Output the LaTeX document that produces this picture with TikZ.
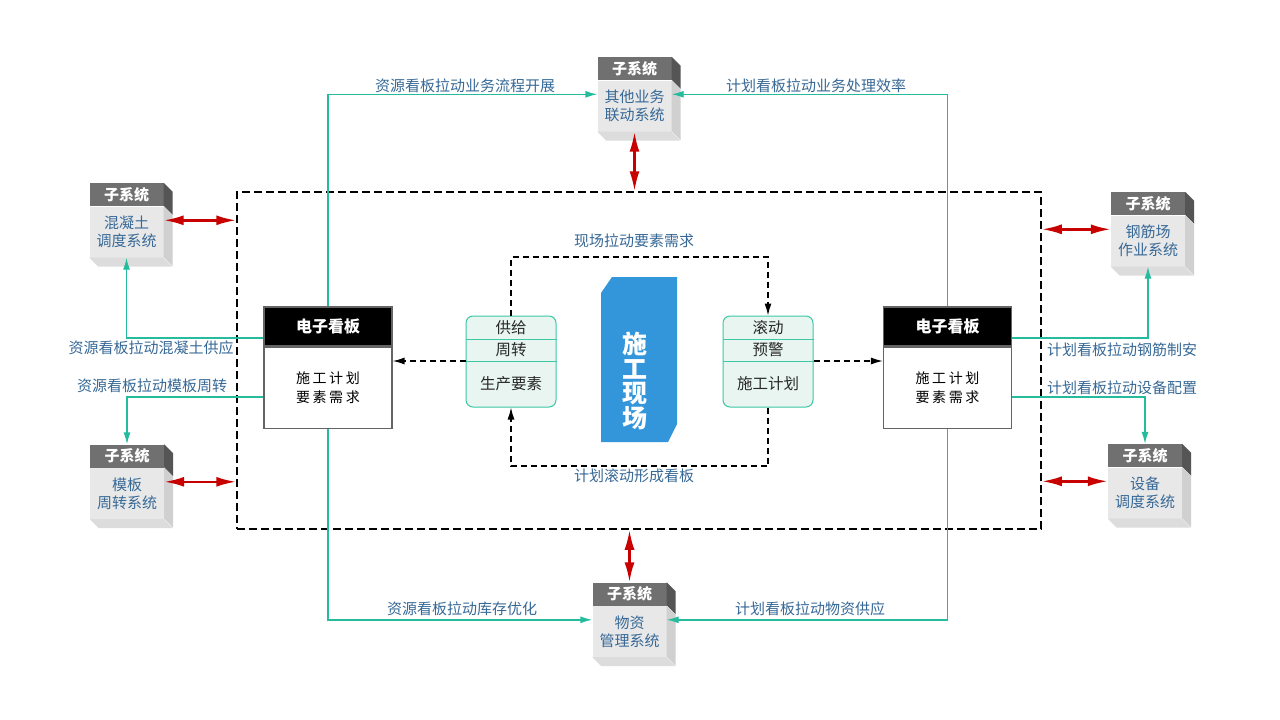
\documentclass[tikz,border=0pt]{standalone}
\usepackage{fontspec}
\setmainfont{Noto Sans CJK SC}
\newfontfamily\kbfont[LetterSpace=18]{Noto Sans CJK SC}
\usetikzlibrary{arrows.meta, positioning}
\definecolor{lblue}{RGB}{55,105,150}
\definecolor{tealc}{RGB}{36,188,156}
\definecolor{redc}{RGB}{200,0,0}
\definecolor{headg}{RGB}{112,112,112}
\definecolor{headside}{RGB}{85,85,85}
\definecolor{bodyg}{RGB}{232,232,232}
\definecolor{bodyside}{RGB}{208,208,208}
\definecolor{bottomside}{RGB}{220,220,220}
\definecolor{mint}{RGB}{232,245,240}
\definecolor{mintline}{RGB}{60,200,165}
\definecolor{siteblue}{RGB}{52,150,218}
\definecolor{kbgray}{RGB}{100,100,100}
\definecolor{rowtext}{RGB}{40,40,40}

\begin{document}
\begin{tikzpicture}[x=1pt, y=-1pt,
    lbl/.style={text=lblue, font=\fontsize{15}{18}\selectfont, inner sep=0pt},
    subbody/.style={fill=bodyg, minimum width=74pt, minimum height=51pt, inner sep=0pt,
      align=center, text=lblue, font=\fontsize{15}{18}\selectfont},
    subhead/.style={fill=headg, minimum width=74pt, minimum height=23pt, inner sep=0pt,
      text=white, font=\fontsize{15}{18}\selectfont\bfseries},
    kbhead/.style={fill=black, draw=kbgray, line width=1.2pt, minimum width=128pt,
      minimum height=39pt, text=white, font=\fontsize{16}{18}\selectfont\bfseries},
    kbbody/.style={fill=white, draw=kbgray, line width=1.2pt, minimum width=128pt,
      minimum height=81pt, align=center, font=\kbfont\fontsize{14}{19}\selectfont},
    mintbox/.style={fill=mint, draw=mintline, line width=1pt, rounded corners=7pt,
      minimum width=90pt, minimum height=91pt},
    rowtxt/.style={text=rowtext, inner sep=0pt, font=\fontsize{15.5}{18}\selectfont},
    zonebox/.style={draw=black, line width=1.5pt, dash pattern=on 8pt off 4pt,
      minimum width=804pt, minimum height=337pt},
    blackdash/.style={draw=black, line width=1.3pt, dash pattern=on 6pt off 4pt,
      -{Latex[length=12pt,width=7pt]}},
    tealarrow/.style={draw=tealc, line width=1.4pt, -{Latex[length=12pt,width=7pt]}},
    redarrow/.style={draw=redc, line width=2.5pt,
      {Latex[length=20pt,width=10pt]}-{Latex[length=20pt,width=10pt]}}
  ]
  \fill[white] (0,0) rectangle (1280,720);
  \useasboundingbox (0,0) rectangle (1280,720);

  \node[zonebox] (zone) at (639,360.5) {};

  \foreach \n/\x/\y/\t in {top/634.5/106/{其他业务\\联动系统}, hnt/126.5/232/{混凝土\\调度系统},
      mb/127/493.5/{模板\\周转系统}, gjc/1148/241/{钢筋场\\作业系统},
      sb/1145/493/{设备\\调度系统}, wz/629.5/631.5/{物资\\管理系统}} {
    \node[subbody] (\n) at (\x,\y) {\t};
    \node[subhead, above=0pt of \n] (\n-h) {子系统};
    \fill[headside] (\n-h.north east) -- ++(9,9) -- ++(0,23) -- ++(-9,-9) -- cycle;
    \fill[bodyside] (\n.north east) -- ++(9,9) -- ++(0,51) -- ++(-9,-9) -- cycle;
    \fill[bottomside] (\n.south west) -- ++(9,9) -- ++(74,0) -- ++(-9,-9) -- cycle;
    \coordinate (\n-w) at ([yshift=-14pt]\n.north west);
    \coordinate (\n-e) at ([yshift=-14pt]\n.north east);
  }

  \node[kbhead] (klh) at (328,326.5) {电子看板};
  \node[kbbody, below=0pt of klh] (klb) {施工计划\\要素需求};
  \node[kbhead] (krh) at (947.5,326.5) {电子看板};
  \node[kbbody, below=0pt of krh] (krb) {施工计划\\要素需求};

  \foreach \n/\x/\a/\b/\c in {gl/511/供给/周转/生产要素, gr/768/滚动/预警/施工计划} {
    \node[mintbox] (\n) at (\x,361.5) {};
    \draw[mintline, line width=1pt] (\n.west |- 0,339) -- (\n.east |- 0,339)
      (\n.west |- 0,361) -- (\n.east |- 0,361);
    \node[rowtxt] (\n-1) at (\x,327.5) {\a};
    \node[rowtxt] (\n-2) at (\x,350) {\b};
    \node[rowtxt] (\n-3) at (\x,384) {\c};
  }

  \fill[siteblue] (601,293) -- (612,277) -- (677,277) -- (677,424) -- (668,442) -- (601,442) -- cycle;
  \node[text=white, align=center, inner sep=0pt, font=\fontsize{25}{24.5}\selectfont\bfseries]
    (site) at (635,381) {施\\工\\现\\场};

  \draw[blackdash] (gl.north) -- (gl.north |- 0,257) -| (gr.north);
  \draw[blackdash] (gr.south) -- (gr.south |- 0,466) -| (gl.south);
  \draw[blackdash] (gl.west |- 0,361) -- (klb.east |- 0,361);
  \draw[blackdash] (gr.east |- 0,361) -- (krb.west |- 0,361);

  \draw[tealarrow] (klh.north) |- (top-w);
  \draw[tealarrow] (krh.north) |- (top-e);
  \draw[tealarrow] (klb.south) |- (wz-w);
  \draw[tealarrow] (krb.south) |- (wz-e);
  \draw[tealarrow] (klh.west |- 0,338) -| (hnt.south);
  \draw[tealarrow] (klb.west |- 0,397) -| (mb-h.north);
  \draw[tealarrow] (krh.east |- 0,338) -| (gjc.south);
  \draw[tealarrow] (krb.east |- 0,397) -| (sb-h.north);

  \draw[redarrow] (hnt-e) -- (hnt-e -| zone.west);
  \draw[redarrow] (mb-e) -- (mb-e -| zone.west);
  \draw[redarrow] (gjc-w) -- (gjc-w -| zone.east);
  \draw[redarrow] (sb-w) -- (sb-w -| zone.east);
  \draw[redarrow] (top.south) -- (top.south |- zone.north);
  \draw[redarrow] (wz-h.north) -- (wz-h.north |- zone.south);

  \node[lbl] (l1) at (465,86) {资源看板拉动业务流程开展};
  \node[lbl] (l2) at (816,86) {计划看板拉动业务处理效率};
  \node[lbl] (l3) at (462,609) {资源看板拉动库存优化};
  \node[lbl] (l4) at (810,609) {计划看板拉动物资供应};
  \node[lbl] (l5) at (151,348) {资源看板拉动混凝土供应};
  \node[lbl] (l6) at (152,386) {资源看板拉动模板周转};
  \node[lbl] (l7) at (1122,350) {计划看板拉动钢筋制安};
  \node[lbl] (l8) at (1122,388) {计划看板拉动设备配置};
  \node[lbl] (l9) at (634,241) {现场拉动要素需求};
  \node[lbl] (l10) at (634,476) {计划滚动形成看板};
\end{tikzpicture}
\end{document}
